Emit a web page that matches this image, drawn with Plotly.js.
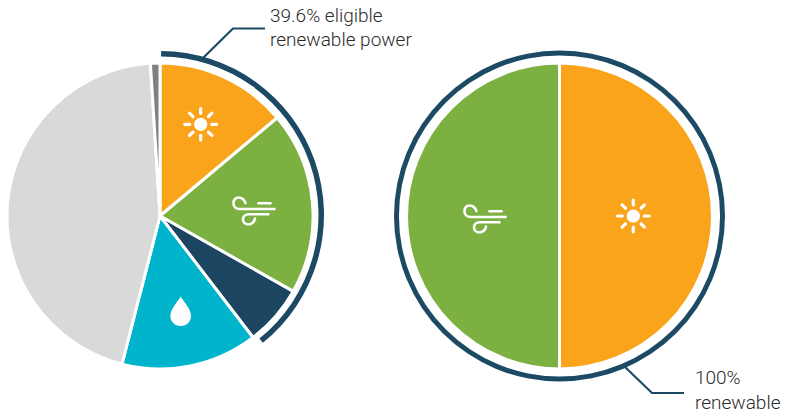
<!DOCTYPE html>
<html><head><meta charset="utf-8">
<script src="https://cdn.plot.ly/plotly-3.0.1.min.js"></script>
<style>html,body{margin:0;padding:0;width:794px;height:417px;overflow:hidden;background:#fff}
#c{position:absolute;left:-20px;top:0;width:834px;height:417px}</style>
</head><body><div id="c"></div>
<script>
const mixLabels=['Solar','Wind','Hydro','Other eligible','Other','Minor'];
const mixValues=[13.9,19.3,6.4,14.4,45.0,1.0];
const mixColors=['#FAA41B','#7CB142','#1B4560','#00B5CB','#D9D9D9','#808080'];
const eligibleValues=[39.1,60.9];
const targetLabels=['Solar','Wind'];
const targetValues=[50,50];
const targetColors=['#FAA41B','#7CB142'];
const fullValues=[100];
const ringColor='#1C4A64';
const notes=[['39.6% eligible',269.3,16],['renewable power',269.3,40],['100%',694,377.5],['renewable',694,402]];

const W=834,H=417,OFF=20;
const dom=(cx,cy,r)=>({x:[(cx+OFF-r)/W,(cx+OFF+r)/W],y:[1-(cy+r)/H,1-(cy-r)/H]});
const P=d=>{let i=0;return d.replace(/-?\d+\.?\d*/g,n=>((i++%2)?1-n/H:(+n+OFF)/W).toFixed(5));};
const base={type:'pie',sort:false,direction:'clockwise',rotation:0,textinfo:'none',hoverinfo:'skip',showlegend:false};
const traces=[
 {...base,labels:['eligible','rest'],values:eligibleValues,rotation:0.4,hole:158.5/164,domain:dom(160,215,164),
  marker:{colors:[ringColor,'rgba(0,0,0,0)'],line:{width:0}}},
 {...base,labels:['all'],values:fullValues,hole:160.5/165.5,domain:dom(559.5,216,165.5),
  marker:{colors:[ringColor],line:{width:0}}},
 {...base,labels:mixLabels,values:mixValues,rotation:0,domain:dom(160,216,153),
  marker:{colors:mixColors,line:{color:'#fff',width:3}}},
 {...base,labels:targetLabels,values:targetValues,domain:dom(559.5,216,153),
  marker:{colors:targetColors,line:{color:'#fff',width:3}}}
];
const shapes=[];
const path=(d,o)=>shapes.push({type:'path',xref:'paper',yref:'paper',path:P(d),layer:'above',...o});
const white={line:{color:'#fff',width:2.6}};
function sun(cx,cy){
  const k=6.6, c=k*0.5523;
  path(`M${cx-k} ${cy} C${cx-k} ${cy-c} ${cx-c} ${cy-k} ${cx} ${cy-k} C${cx+c} ${cy-k} ${cx+k} ${cy-c} ${cx+k} ${cy} C${cx+k} ${cy+c} ${cx+c} ${cy+k} ${cx} ${cy+k} C${cx-c} ${cy+k} ${cx-k} ${cy+c} ${cx-k} ${cy} Z`,{fillcolor:'#fff',line:{width:0}});
  for(let a=0;a<8;a++){const t=a*Math.PI/4,s=Math.sin(t),o=Math.cos(t);
    path(`M${cx+11*s} ${cy-11*o} L${cx+15.8*s} ${cy-15.8*o}`,{line:{color:'#fff',width:3.2}});}
}
function wind(x,y){
  path(`M${x+12} ${y+6} C${x+10} ${y+1} ${x+6} ${y+0.5} ${x+5} ${y+0.5} C${x+2} ${y+0.5} ${x} ${y+3} ${x} ${y+6.5} C${x} ${y+10} ${x+3} ${y+12} ${x+6} ${y+12} L${x+41} ${y+12}`,white);
  path(`M${x+25} ${y+6.3} L${x+37} ${y+6.3}`,white);
  path(`M${x+35} ${y+17.3} L${x+15} ${y+17.3} C${x+12} ${y+17.3} ${x+9.5} ${y+19.5} ${x+9.5} ${y+22.5} C${x+9.5} ${y+25.5} ${x+12} ${y+27.5} ${x+15} ${y+27.5} C${x+18} ${y+27.5} ${x+21} ${y+25} ${x+21.5} ${y+21.5}`,white);
}
function drop(cx){
  path(`M${cx} 296.5 C${cx-2} 301 ${cx-10.3} 308 ${cx-10.3} 316 C${cx-10.3} 322 ${cx-5.5} 326 ${cx} 326 C${cx+5.5} 326 ${cx+10.3} 322 ${cx+10.3} 316 C${cx+10.3} 308 ${cx+2} 301 ${cx} 296.5 Z`,{fillcolor:'#fff',line:{width:0}});
}
sun(200.7,124.3); sun(633.3,216);
wind(233.5,197); wind(464.5,205);
drop(180.7);
path('M203 58 L233 28.5 L265 28.5',{line:{color:ringColor,width:2.2}});
path('M625 367 L652 393 L684 393',{line:{color:ringColor,width:2.2}});

const annotations=notes.map(([t,x,y])=>({text:t,xref:'paper',yref:'paper',x:(x+OFF)/W,y:1-y/H,xanchor:'left',yanchor:'middle',showarrow:false,borderpad:0,
  font:{family:'Roboto, sans-serif',size:19,color:'#2b2b2b',weight:300}}));
Plotly.newPlot('c',traces,{width:W,height:H,margin:{l:0,r:0,t:0,b:0,pad:0},paper_bgcolor:'#fff',plot_bgcolor:'#fff',showlegend:false,shapes,annotations},{displayModeBar:false,staticPlot:true}).then(()=>{
  document.querySelectorAll('.shapelayer path').forEach(p=>{ if(p.style.stroke.includes('255, 255, 255')) p.style.strokeLinecap='round'; });
});
</script></body></html>
